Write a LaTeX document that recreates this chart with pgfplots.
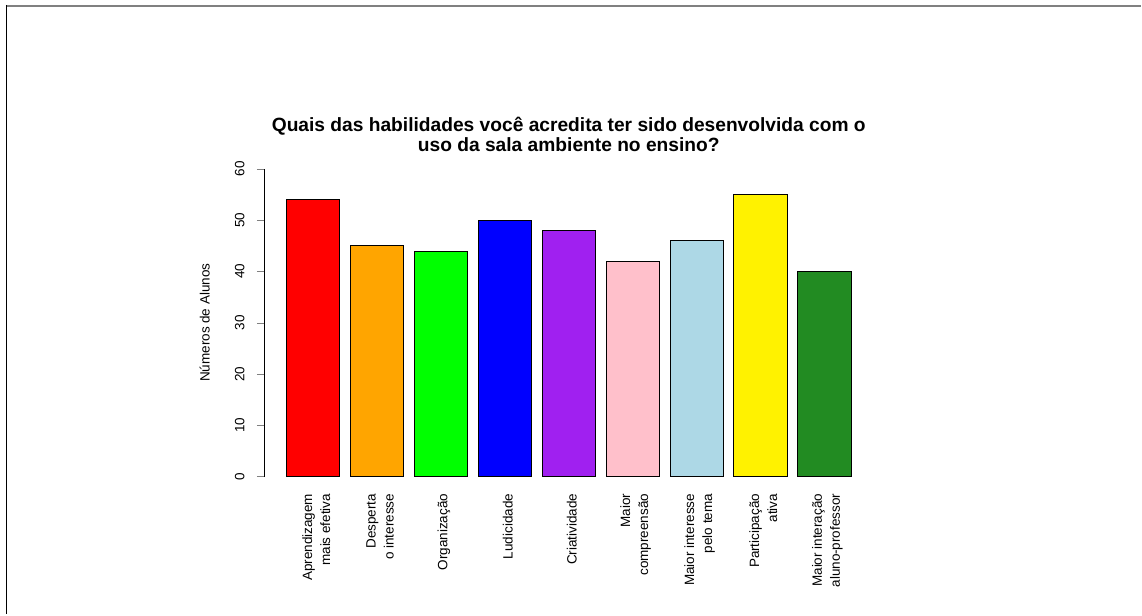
\documentclass[border=0pt]{standalone}
\usepackage{fontspec}
\setmainfont{Liberation Sans}
\usepackage{pgfplots}
\pgfplotsset{compat=1.18}
\definecolor{rpurple}{HTML}{A020F0}
\definecolor{rpink}{HTML}{FFC0CB}
\definecolor{rlightblue}{HTML}{ADD8E6}
\definecolor{rorange}{HTML}{FFA500}
\definecolor{rforest}{HTML}{228B22}
\begin{document}
\begin{tikzpicture}[x=1pt,y=1pt]
\path (0,0) rectangle (1142,615);
\draw[black!50, line width=2pt] (6,609.3) -- (1142,609.3);
\draw[black, line width=1.5pt] (6.5,610) -- (6.5,0);
\begin{axis}[
  at={(264pt,138pt)}, anchor=south west,
  scale only axis, width=610.5pt, height=308pt,
  xmin=-0.774, xmax=8.774, ymin=0, ymax=60,
  axis lines*=left,
  x axis line style={draw=none},
  xtick style={draw=none},
  xtick={0,1,2,3,4,5,6,7,8},
  xticklabels={{Aprendizagem\\mais efetiva},{Desperta\\o interesse},{Organização},{Ludicidade},{Criatividade},{Maior\\compreensão},{Maior interesse\\pelo tema},{Participação\\ativa},{Maior interação\\aluno-professor}},
  xticklabel style={rotate=90, anchor=east, align=right, font=\fontsize{13.5}{18}\selectfont, inner sep=0pt, yshift=-3pt, xshift=-10pt},
  ytick={0,10,20,30,40,50,60},
  tick align=outside, major tick length=7pt,
  ytick pos=left,
  yticklabel style={rotate=90, anchor=south, inner sep=12pt, font=\fontsize{13.5}{16}\selectfont},
  /pgf/number format/assume math mode=true,
  every axis y label/.style={at={(axis description cs:-0.0966,0.5)}, rotate=90, anchor=center},
  ylabel={Números de Alunos},
  label style={font=\fontsize{13.5}{16}\selectfont},
  title={Quais das habilidades você acredita ter sido desenvolvida com o\\uso da sala ambiente no ensino?},
  title style={font=\bfseries\fontsize{19.2}{20.5}\selectfont, align=center, at={(axis description cs:0.5,1)}, anchor=south, inner sep=0pt, yshift=11pt},
  ybar, bar width=53.3pt,
  every axis plot/.append style={draw=black, line width=0.7pt, bar shift=0pt},
]
\addplot[fill=red] coordinates {(0,54)};
\addplot[fill=rorange] coordinates {(1,45)};
\addplot[fill=green] coordinates {(2,44)};
\addplot[fill=blue] coordinates {(3,50)};
\addplot[fill=rpurple] coordinates {(4,48)};
\addplot[fill=rpink] coordinates {(5,42)};
\addplot[fill=rlightblue] coordinates {(6,46)};
\addplot[fill=yellow] coordinates {(7,55)};
\addplot[fill=rforest] coordinates {(8,40)};
\end{axis}
\end{tikzpicture}
\end{document}
